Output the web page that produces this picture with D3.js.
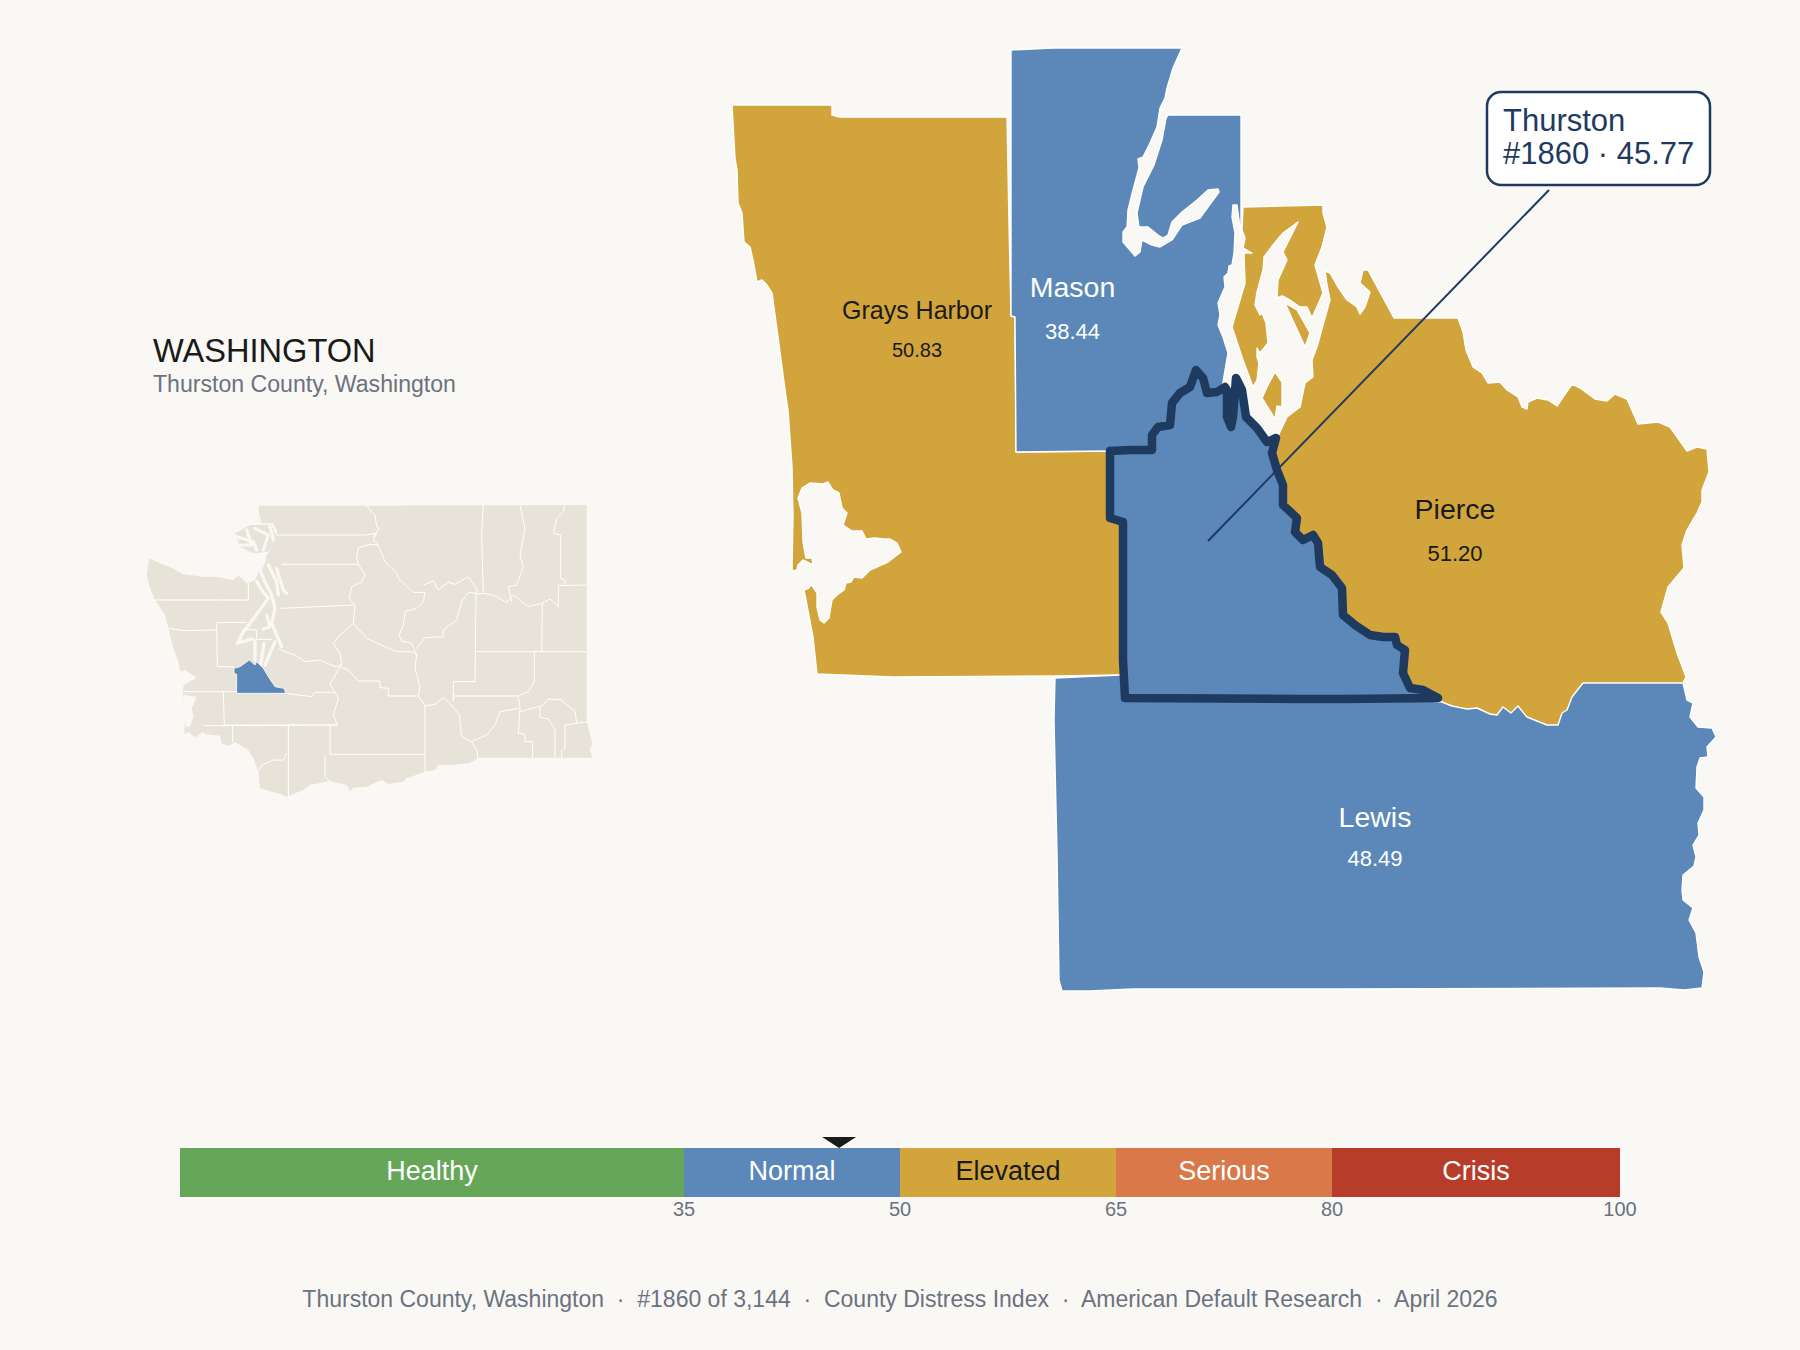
<!DOCTYPE html>
<html>
<head>
<meta charset="utf-8">
<script src="https://cdn.jsdelivr.net/npm/d3@7"></script>
<style>
html, body { margin: 0; padding: 0; background: #faf8f4; }
svg { display: block; }
text { font-family: "Liberation Sans", Arial, sans-serif; }
</style>
</head>
<body>
<script>
var w = 1800, h = 1350;

var bg = '#faf8f4', navy = '#1f3a5f', blue = '#5b88b8', gold = '#d2a43c',
    ink = '#1a1a1a', gray = '#6b7280', land = '#e8e3d8';

// severity bar
var bandNames = [ 'Healthy', 'Normal', 'Elevated', 'Serious', 'Crisis' ];
var bandStops = [ 0, 35, 50, 65, 80, 100 ];
var bandColors = [ '#66a659', blue, gold, '#d97848', '#b83c2a' ];
var bandText = [ '#fff', '#fff', ink, '#fff', '#fff' ];
var tickValues = [ 35, 50, 65, 80, 100 ];
var countyScore = 45.77;

// county labels
var labelNames = [ 'Grays Harbor', 'Mason', 'Pierce', 'Lewis' ];
var labelValues = [ '50.83', '38.44', '51.20', '48.49' ];
var labelX = [ 917, 1072.5, 1455, 1375 ];
var labelY = [ 319, 297, 519, 827 ];
var valueY = [ 357, 339, 561, 866 ];

// outlines of the focus map, in map units
var graysHarbor = [ [732,105],[832,105],[832,115],[840,117],[1007,117],[1009,223],[1011,316],[1015,317],[1016,452],
  [1110,451],[1110,518],[1123,522],[1123,675],[1057,676],[893,677],[817,674],[813,637],[804,590],[809,588],[811,584],
  [817,593],[817,607],[820,620],[824,623],[829,618],[832,600],[837,595],[844,590],[846,583],[851,582],[854,577],
  [862,578],[870,570],[888,562],[901,552],[897,543],[890,539],[883,539],[875,538],[866,539],[862,531],[852,531],
  [843,525],[847,513],[842,508],[839,493],[833,490],[828,482],[823,484],[810,483],[802,488],[798,498],[802,513],
  [803,542],[806,558],[812,558],[813,565],[803,560],[798,565],[797,570],[792,571],[793,517],[792,467],[788,410],
  [785,390],[778,337],[772,293],[767,285],[762,280],[757,282],[753,260],[750,247],[744,242],[742,213],[738,203],
  [737,170],[735,158] ];

var mason = [ [1011,50],[1053,48],[1182,48],[1173,68],[1167,88],[1165,98],[1160,108],[1157,127],[1150,143],[1143,157],
  [1138,159],[1139,168],[1133,190],[1128,210],[1127,227],[1123,232],[1123,242],[1135,256],[1140,252],[1142,240],
  [1152,245],[1160,247],[1172,240],[1182,225],[1200,218],[1208,207],[1219,192],[1218,189],[1208,190],[1197,200],
  [1182,212],[1172,222],[1168,235],[1163,238],[1158,235],[1148,227],[1139,227],[1137,213],[1143,187],[1154,165],
  [1162,140],[1166,118],[1168,115],[1241,115],[1241,235],[1237,205],[1233,205],[1232,217],[1235,233],[1234,253],
  [1232,265],[1229,266],[1228,273],[1224,277],[1225,287],[1218,303],[1220,315],[1218,325],[1223,337],[1228,353],
  [1223,382],[1223,400],[1180,440],[1130,470],[1110,451],[1016,452],[1015,317],[1011,316] ];

var lewis = [ [1055,678],[1120,675],[1680,675],[1683,683],[1687,700],[1693,703],[1690,717],[1698,727],[1712,728],
  [1716,737],[1707,747],[1708,757],[1700,758],[1697,767],[1696,788],[1704,797],[1704,810],[1698,823],[1699,835],
  [1693,845],[1696,857],[1694,866],[1683,875],[1682,890],[1683,900],[1693,908],[1689,920],[1696,933],[1699,957],
  [1704,972],[1702,988],[1684,990],[1660,988],[1340,989],[1133,989],[1090,991],[1062,991],[1059,980],[1057,853],[1054,720] ];

var pierce = [ [1394,318],[1458,318],[1463,332],[1466,350],[1473,367],[1482,373],[1488,383],[1500,382],[1507,390],
  [1518,397],[1522,407],[1527,409],[1528,402],[1537,398],[1548,400],[1557,406],[1572,384],[1580,388],[1595,399],
  [1607,401],[1615,394],[1627,399],[1638,424],[1658,422],[1670,427],[1687,451],[1697,447],[1707,449],[1709,472],
  [1702,490],[1702,502],[1697,513],[1687,530],[1682,545],[1684,568],[1668,587],[1661,612],[1668,623],[1677,653],
  [1686,677],[1683,683],[1583,683],[1572,697],[1567,710],[1562,713],[1558,725],[1547,725],[1527,717],[1518,706],
  [1511,713],[1503,707],[1497,715],[1490,714],[1477,708],[1467,709],[1452,706],[1442,702],[1300,690],[1250,460],
  [1277,438],[1287,417],[1300,407],[1305,383],[1313,377],[1312,360],[1317,347],[1323,325],[1330,300],[1327,285],
  [1325,271],[1330,273],[1338,287],[1347,300],[1357,307],[1360,314],[1365,307],[1370,292],[1360,283],[1363,270],[1368,270] ];

var piercePeninsula = [ [1243,207],[1323,205],[1323,213],[1327,227],[1322,247],[1315,265],[1323,293],[1312,318],
  [1307,307],[1300,307],[1290,300],[1282,296],[1277,298],[1278,280],[1287,260],[1283,252],[1298,222],[1283,233],
  [1273,245],[1264,257],[1263,270],[1257,292],[1255,305],[1260,315],[1262,313],[1266,323],[1268,343],[1260,353],
  [1257,348],[1257,357],[1259,363],[1257,380],[1253,387],[1243,360],[1232,327],[1245,283],[1244,253],[1252,253],
  [1243,248],[1245,238],[1242,230] ];

var pierceIslandA = [ [1275,372],[1282,382],[1282,407],[1277,406],[1275,419],[1262,398],[1267,387] ];
var pierceIslandB = [ [1285,303],[1297,310],[1310,333],[1305,347] ];

var thurston = [ [1110,451],[1130,450],[1152,450],[1152,435],[1158,427],[1170,425],[1172,403],[1180,393],[1190,387],
  [1196,370],[1203,378],[1207,393],[1217,392],[1225,387],[1227,390],[1227,417],[1231,427],[1233,417],[1236,378],
  [1242,390],[1246,417],[1257,428],[1267,442],[1276,438],[1272,453],[1277,470],[1283,485],[1283,505],[1297,518],
  [1295,532],[1303,540],[1313,535],[1318,543],[1320,567],[1332,575],[1342,588],[1343,615],[1355,625],[1370,635],
  [1383,637],[1395,637],[1397,645],[1405,650],[1403,673],[1410,688],[1423,690],[1438,698],[1343,699],[1300,699],
  [1125,698],[1123,660],[1123,522],[1110,518] ];

var leader = [ [1549,190],[1208,541] ];

// locator map, in its own map units
var miniState = [ [358,32],[680,32],[1340,30],[1340,680],[1357,745],[1350,765],[1358,788],[1013,788],[1005,795],[985,805],
  [930,810],[895,810],[885,825],[855,830],[800,850],[790,860],[745,867],[725,855],[680,875],[640,878],[630,888],[620,870],
  [570,858],[510,870],[490,885],[440,905],[420,897],[360,880],[355,830],[340,790],[325,765],[285,742],[265,752],[245,745],
  [240,722],[195,718],[190,710],[165,727],[145,712],[133,718],[135,650],[128,595],[130,575],[115,500],[100,460],[85,400],
  [75,360],[45,315],[30,280],[20,240],[28,190],[18,185],[60,205],[95,218],[130,238],[190,245],[225,245],[280,255],[295,240],
  [320,265],[345,255],[375,185],[385,175],[405,130],[412,110],[400,85],[365,85],[355,45] ];
var miniIslands = [ [285,115],[330,90],[395,90],[410,130],[385,170],[340,175],[300,155] ];
var miniThurston = [ [282,520],[300,515],[328,495],[345,510],[350,500],[370,520],[385,545],[405,575],[432,580],[437,595],
  [290,595],[290,538],[282,535] ];
var miniBays = [
  [ [118,530],[135,525],[170,548],[140,565],[128,575] ],
  [ [130,600],[170,605],[155,640],[160,665],[150,695],[138,695],[130,650] ]
];
var miniWater = [
  [ [375,190],[360,225],[375,260],[395,300],[405,340],[395,385],[410,420],[425,455] ],
  [ [350,260],[365,285],[385,310],[345,365],[310,410],[292,445],[335,432] ],
  [ [410,220],[420,255],[430,285],[440,295] ],
  [ [385,210],[410,260],[415,300] ],
  [ [380,360],[390,395],[370,402] ],
  [ [345,435],[345,495] ],
  [ [372,445],[362,510] ],
  [ [405,440],[375,510] ],
  [ [290,125],[340,140],[350,165] ],
  [ [320,105],[335,150],[300,150] ],
  [ [345,100],[385,120],[370,165] ],
  [ [390,95],[400,135] ]
];
var miniLines = [
  [ [410,120],[675,120],[710,115],[700,135],[715,150] ],
  [ [680,32],[690,45],[705,60],[710,95],[718,100],[700,125] ],
  [ [715,150],[690,148],[655,158],[650,190],[655,208],[425,208] ],
  [ [655,208],[675,240],[665,260],[635,275],[628,310],[645,330],[423,340] ],
  [ [645,330],[640,385],[595,425],[580,445],[600,475],[605,510],[585,515],[540,495],[495,500],[465,480],[430,468],[415,460] ],
  [ [640,385],[680,430],[735,455],[770,470],[815,470],[830,480],[825,520],[840,575],[835,603],[745,603],[745,580],[720,578],[720,558],[655,558],[625,525],[600,515] ],
  [ [600,515],[570,568],[585,592],[595,610],[580,660],[593,690],[253,690],[250,590],[130,590] ],
  [ [253,590],[290,590],[435,595],[515,605],[525,592],[585,592] ],
  [ [715,150],[735,200],[770,235],[775,250],[820,292],[855,292],[850,320],[830,340],[795,350],[790,390],[778,420],[785,438],[815,445],[830,480] ],
  [ [850,270],[880,258],[895,285],[925,262],[945,268],[985,245],[1012,285],[1008,295],[985,292],[965,320],[950,375],[910,405],[910,425],[855,428],[830,460] ],
  [ [1008,295],[1005,560],[940,560],[940,620] ],
  [ [1030,30],[1025,120],[1030,295] ],
  [ [1010,297],[1030,295],[1060,300],[1100,322],[1120,300],[1165,335],[1205,325],[1230,312],[1255,335],[1255,272],[1340,270] ],
  [ [1140,30],[1155,100],[1140,180],[1150,215],[1130,270],[1105,275],[1115,320] ],
  [ [1275,30],[1270,50],[1250,70],[1240,115],[1262,120],[1262,250],[1275,255],[1275,270] ],
  [ [1207,325],[1205,470],[1005,470] ],
  [ [1205,470],[1340,470] ],
  [ [1183,470],[1183,560],[1165,590],[1135,603],[940,603] ],
  [ [1135,603],[1140,640],[1135,715],[1155,718],[1155,740],[1178,740],[1178,788] ],
  [ [1140,650],[1195,635],[1210,630],[1225,612],[1265,615],[1305,650],[1310,685],[1340,680] ],
  [ [1200,635],[1200,668],[1225,672],[1245,705],[1245,788] ],
  [ [1310,685],[1275,690],[1275,760],[1265,765],[1265,788] ],
  [ [1135,640],[1080,650],[1065,690],[1040,720],[995,740],[965,725],[958,660],[925,620],[910,608],[885,628],[855,632],[835,603] ],
  [ [855,632],[855,830] ],
  [ [995,740],[1012,770],[1013,788] ],
  [ [570,692],[570,778],[855,778] ],
  [ [555,780],[555,845],[570,858] ],
  [ [445,692],[445,905] ],
  [ [278,692],[278,742] ],
  [ [190,692],[593,690] ],
  [ [440,775],[430,795],[400,795],[365,810],[355,830] ],
  [ [230,383],[232,515],[282,515] ],
  [ [230,383],[320,382] ],
  [ [310,403],[350,405],[350,433],[395,433] ],
  [ [85,400],[135,407],[230,405] ],
  [ [45,315],[230,315],[325,315],[325,265] ]
];

//////////////////////////////////////////////////

var svg = d3.select( 'body' )
    .append( 'svg' )
    .attr( 'width', w )
    .attr( 'height', h )
    .attr( 'viewBox', '0 0 ' + w + ' ' + h );

svg.append( 'rect' )
    .attr( 'width', w )
    .attr( 'height', h )
    .attr( 'fill', bg );

var xMain = d3.scaleLinear().domain( [ 0, 1800 ] ).range( [ 0, 1800 ] );
var yMain = d3.scaleLinear().domain( [ 0, 1350 ] ).range( [ 0, 1350 ] );
var xMini = d3.scaleLinear().domain( [ 0, 1380 ] ).range( [ 140, 600 ] );
var yMini = d3.scaleLinear().domain( [ 0, 930 ] ).range( [ 495, 805 ] );
var xBar = d3.scaleLinear().domain( [ 0, 100 ] ).range( [ 180, 1620 ] );

var mainRing = d3.line().x( d => xMain( d[0] ) ).y( d => yMain( d[1] ) ).curve( d3.curveLinearClosed );
var mainOpen = d3.line().x( d => xMain( d[0] ) ).y( d => yMain( d[1] ) );
var miniRing = d3.line().x( d => xMini( d[0] ) ).y( d => yMini( d[1] ) ).curve( d3.curveLinearClosed );
var miniOpen = d3.line().x( d => xMini( d[0] ) ).y( d => yMini( d[1] ) );

// locator
var mini = svg.append( 'g' );

mini.selectAll( 'path.land' )
    .data( [ miniState, miniIslands ] )
    .join( 'path' )
    .attr( 'class', 'land' )
    .attr( 'd', miniRing )
    .attr( 'fill', land );

mini.selectAll( 'path.bay' )
    .data( miniBays )
    .join( 'path' )
    .attr( 'class', 'bay' )
    .attr( 'd', miniRing )
    .attr( 'fill', bg );

mini.selectAll( 'path.water' )
    .data( miniWater )
    .join( 'path' )
    .attr( 'class', 'water' )
    .attr( 'd', miniOpen )
    .attr( 'fill', 'none' )
    .attr( 'stroke', bg )
    .attr( 'stroke-width', 3.2 )
    .attr( 'stroke-linejoin', 'round' )
    .attr( 'stroke-linecap', 'round' );

mini.selectAll( 'path.border' )
    .data( miniLines )
    .join( 'path' )
    .attr( 'class', 'border' )
    .attr( 'd', miniOpen )
    .attr( 'fill', 'none' )
    .attr( 'stroke', '#fff' )
    .attr( 'stroke-width', 1 );

mini.append( 'path' )
    .datum( miniThurston )
    .attr( 'd', miniRing )
    .attr( 'fill', blue )
    .attr( 'stroke', '#fff' )
    .attr( 'stroke-width', 0.8 );

// focus counties
var counties = svg.append( 'g' );

counties.selectAll( 'path.county' )
    .data( [
        { rings: [ graysHarbor ], fill: gold },
        { rings: [ mason ], fill: blue },
        { rings: [ lewis ], fill: blue },
        { rings: [ pierce, piercePeninsula, pierceIslandA, pierceIslandB ], fill: gold }
    ] )
    .join( 'path' )
    .attr( 'class', 'county' )
    .attr( 'd', d => d.rings.map( mainRing ).join( '' ) )
    .attr( 'fill', d => d.fill )
    .attr( 'stroke', '#fff' )
    .attr( 'stroke-width', 1.4 )
    .attr( 'stroke-linejoin', 'round' );

counties.append( 'path' )
    .datum( thurston )
    .attr( 'd', mainRing )
    .attr( 'fill', blue )
    .attr( 'stroke', navy )
    .attr( 'stroke-width', 8.5 )
    .attr( 'stroke-linejoin', 'round' );

// county labels
labelNames.forEach( function( name, i ) {
    var onGold = name == 'Grays Harbor' || name == 'Pierce';
    var small = name == 'Grays Harbor';
    svg.append( 'text' )
        .attr( 'x', labelX[i] )
        .attr( 'y', labelY[i] )
        .attr( 'text-anchor', 'middle' )
        .attr( 'font-size', small ? 25 : 28.5 )
        .attr( 'fill', onGold ? ink : '#fff' )
        .text( name );
    svg.append( 'text' )
        .attr( 'x', labelX[i] )
        .attr( 'y', valueY[i] )
        .attr( 'text-anchor', 'middle' )
        .attr( 'font-size', small ? 20 : 22 )
        .attr( 'fill', onGold ? ink : '#fff' )
        .text( labelValues[i] );
} );

// callout
svg.append( 'path' )
    .datum( leader )
    .attr( 'd', mainOpen )
    .attr( 'fill', 'none' )
    .attr( 'stroke', navy )
    .attr( 'stroke-width', 2 );

svg.append( 'rect' )
    .attr( 'x', 1487 )
    .attr( 'y', 92 )
    .attr( 'width', 223 )
    .attr( 'height', 93 )
    .attr( 'rx', 14 )
    .attr( 'fill', '#fff' )
    .attr( 'stroke', navy )
    .attr( 'stroke-width', 2.5 );

svg.append( 'text' )
    .attr( 'x', 1503 )
    .attr( 'y', 131 )
    .attr( 'font-size', 31 )
    .attr( 'fill', navy )
    .text( 'Thurston' );

svg.append( 'text' )
    .attr( 'x', 1503 )
    .attr( 'y', 164 )
    .attr( 'font-size', 31 )
    .attr( 'fill', navy )
    .text( '#1860 · ' + countyScore );

// title
svg.append( 'text' )
    .attr( 'x', 153 )
    .attr( 'y', 362 )
    .attr( 'font-size', 32.6 )
    .attr( 'fill', ink )
    .text( 'WASHINGTON' );

svg.append( 'text' )
    .attr( 'x', 153 )
    .attr( 'y', 392 )
    .attr( 'font-size', 23.1 )
    .attr( 'fill', gray )
    .text( 'Thurston County, Washington' );

// severity bar
var bar = svg.append( 'g' );

bar.selectAll( 'rect' )
    .data( bandNames )
    .join( 'rect' )
    .attr( 'x', ( d, i ) => xBar( bandStops[i] ) )
    .attr( 'y', 1148 )
    .attr( 'width', ( d, i ) => xBar( bandStops[i + 1] ) - xBar( bandStops[i] ) )
    .attr( 'height', 49 )
    .attr( 'fill', ( d, i ) => bandColors[i] );

bar.selectAll( 'text' )
    .data( bandNames )
    .join( 'text' )
    .attr( 'x', ( d, i ) => xBar( ( bandStops[i] + bandStops[i + 1] ) / 2 ) )
    .attr( 'y', 1180 )
    .attr( 'text-anchor', 'middle' )
    .attr( 'font-size', 27 )
    .attr( 'fill', ( d, i ) => bandText[i] )
    .text( d => d );

var axis = svg.append( 'g' )
    .attr( 'transform', 'translate(0,1197)' )
    .call( d3.axisBottom( xBar ).tickValues( tickValues ).tickSize( 0 ).tickPadding( 5 ).offset( 0 ) );

axis.select( '.domain' ).remove();
axis.selectAll( 'text' )
    .attr( 'font-family', '"Liberation Sans", Arial, sans-serif' )
    .attr( 'font-size', 20 )
    .attr( 'fill', gray );

svg.append( 'path' )
    .attr( 'd', d3.line()( [ [ xBar( countyScore ) - 17, 1137 ], [ xBar( countyScore ) + 17, 1137 ], [ xBar( countyScore ), 1148 ] ] ) + 'Z' )
    .attr( 'fill', ink );

// footer
svg.append( 'text' )
    .attr( 'x', 900 )
    .attr( 'y', 1307 )
    .attr( 'text-anchor', 'middle' )
    .attr( 'font-size', 23 )
    .attr( 'fill', gray )
    .style( 'white-space', 'pre' )
    .text( 'Thurston County, Washington  ·  #1860 of 3,144  ·  County Distress Index  ·  American Default Research  ·  April 2026' );
</script>
</body>
</html>
